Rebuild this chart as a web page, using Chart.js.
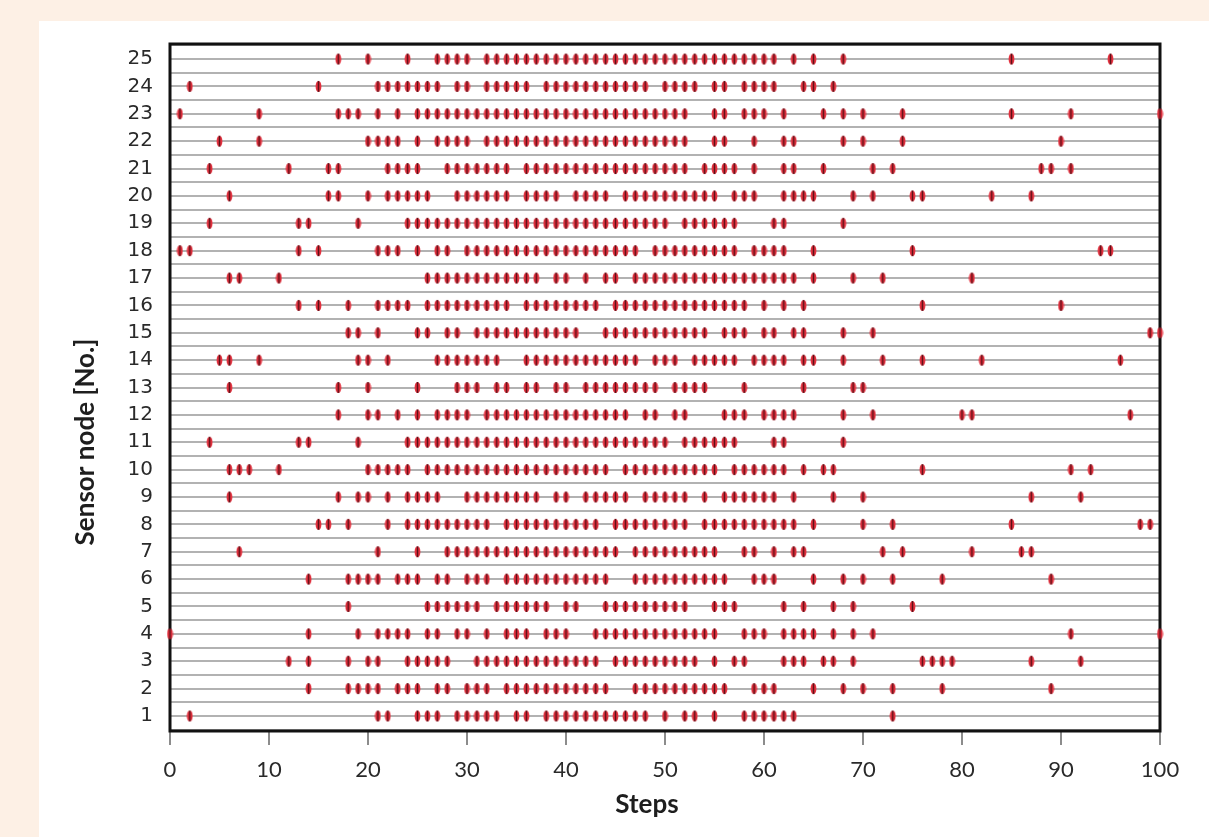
<!DOCTYPE html>
<html>
<head>
<meta charset="utf-8">
<script src="https://cdn.jsdelivr.net/npm/chart.js@4/dist/chart.umd.min.js"></script>
<style>
  html, body { margin: 0; padding: 0; }
  body { background: #fdf0e5; width: 1209px; height: 837px; position: relative; overflow: hidden; }
  #panel { position: absolute; left: 39px; top: 21px; right: 0; bottom: 0; background: #ffffff; }
  #raster { position: absolute; left: 0; top: 0; }
</style>
</head>
<body>
<div id="panel"></div>
<canvas id="raster" width="1209" height="837"></canvas>
<script>
"use strict"

// steps at which each sensor node fired
// -----------------
const node01 = [2,21,22,25,26,27,29,30,31,32,33,35,36,38,39,40,41,42,43,44,45,46,47,48,50,52,53,55,58,59,60,61,62,63,73];
const node02 = [14,18,19,20,21,23,24,25,27,28,30,31,32,34,35,36,37,38,39,40,41,42,43,44,47,48,49,50,51,52,53,54,55,56,59,60,61,65,68,70,73,78,89];
const node03 = [12,14,18,20,21,24,25,26,27,28,31,32,33,34,35,36,37,38,39,40,41,42,43,45,46,47,48,49,50,51,52,53,55,57,58,62,63,64,66,67,69,76,77,78,79,87,92];
const node04 = [0,14,19,21,22,23,24,26,27,29,30,32,34,35,36,38,39,40,43,44,45,46,47,48,49,50,51,52,53,54,55,58,59,60,62,63,64,65,67,69,71,91,100];
const node05 = [18,26,27,28,29,30,31,33,34,35,36,37,38,40,41,44,45,46,47,48,49,50,51,52,55,56,57,62,64,67,69,75];
const node06 = [14,18,19,20,21,23,24,25,27,28,30,31,32,34,35,36,37,38,39,40,41,42,43,44,47,48,49,50,51,52,53,54,55,56,59,60,61,65,68,70,73,78,89];
const node07 = [7,21,25,28,29,30,31,32,33,34,35,36,37,38,39,40,41,42,43,44,45,47,48,49,50,51,52,53,54,55,58,59,61,63,64,72,74,81,86,87];
const node08 = [15,16,18,22,24,25,26,27,28,29,30,31,32,34,35,36,37,38,39,40,41,42,43,45,46,47,48,49,50,51,52,54,55,56,57,58,59,60,61,62,63,65,70,73,85,98,99];
const node09 = [6,17,19,20,22,24,25,26,27,30,31,32,33,34,35,36,37,39,40,42,43,44,45,46,48,49,50,51,52,54,56,57,58,59,60,61,63,67,70,87,92];
const node10 = [6,7,8,11,20,21,22,23,24,26,27,28,29,30,31,32,33,34,35,36,37,38,39,40,41,42,43,44,46,47,48,49,50,51,52,53,54,55,57,58,59,60,61,62,64,66,67,76,91,93];
const node11 = [4,13,14,19,24,25,26,27,28,29,30,31,32,33,34,35,36,37,38,39,40,41,42,43,44,45,46,47,48,49,50,52,53,54,55,56,57,61,62,68];
const node12 = [17,20,21,23,25,27,28,29,30,32,33,34,35,36,37,38,39,40,41,42,43,44,45,46,48,49,51,52,56,57,58,60,61,62,63,68,71,80,81,97];
const node13 = [6,17,20,25,29,30,31,33,34,36,37,39,40,42,43,44,45,46,47,48,49,51,52,53,54,58,64,69,70];
const node14 = [5,6,9,19,20,22,27,28,29,30,31,32,33,36,37,38,39,40,41,42,43,44,45,46,47,49,50,51,53,54,55,56,57,59,60,61,62,64,65,68,72,76,82,96];
const node15 = [18,19,21,25,26,28,29,31,32,33,34,35,36,37,38,39,40,41,44,45,46,47,48,49,50,51,52,53,54,56,57,58,60,61,63,64,68,71,99,100];
const node16 = [13,15,18,21,22,23,24,26,27,28,29,30,31,32,33,34,36,37,38,39,40,41,42,43,45,46,47,48,49,50,51,52,53,54,55,56,57,58,60,62,64,76,90];
const node17 = [6,7,11,26,27,28,29,30,31,32,33,34,35,36,37,39,40,42,44,45,47,48,49,50,51,52,53,54,55,56,57,58,59,60,61,62,63,65,69,72,81];
const node18 = [1,2,13,15,21,22,23,25,27,28,30,31,32,33,34,35,36,37,38,39,40,41,42,43,44,45,46,47,49,50,51,52,53,54,55,56,57,59,60,61,62,65,75,94,95];
const node19 = [4,13,14,19,24,25,26,27,28,29,30,31,32,33,34,35,36,37,38,39,40,41,42,43,44,45,46,47,48,49,50,52,53,54,55,56,57,61,62,68];
const node20 = [6,16,17,20,22,23,24,25,26,29,30,31,32,33,34,36,37,38,39,41,42,43,44,46,47,48,49,50,51,52,53,54,55,57,58,59,62,63,64,65,69,71,75,76,83,87];
const node21 = [4,12,16,17,22,23,24,25,28,29,30,31,32,33,34,36,37,38,39,40,41,42,43,44,45,46,47,48,49,50,51,52,54,55,56,57,59,62,63,66,71,73,88,89,91];
const node22 = [5,9,20,21,22,23,25,27,28,29,30,32,33,34,35,36,37,38,39,40,41,42,43,44,45,46,47,48,49,50,51,52,55,56,59,62,63,68,70,74,90];
const node23 = [1,9,17,18,19,21,23,25,26,27,28,29,30,31,32,33,34,35,36,37,38,39,40,41,42,43,44,45,46,47,48,49,50,51,52,55,56,58,59,60,62,66,68,70,74,85,91,100];
const node24 = [2,15,21,22,23,24,25,26,27,29,30,32,33,34,35,36,38,39,40,41,42,43,44,45,46,47,48,50,51,52,53,55,56,58,59,60,61,64,65,67];
const node25 = [17,20,24,27,28,29,30,32,33,34,35,36,37,38,39,40,41,42,43,44,45,46,47,48,49,50,51,52,53,54,55,56,57,58,59,60,61,63,65,68,85,95];

const nodes = [node01,node02,node03,node04,node05,node06,node07,node08,node09,node10,
               node11,node12,node13,node14,node15,node16,node17,node18,node19,node20,
               node21,node22,node23,node24,node25];
const nodeLabels = ['1','2','3','4','5','6','7','8','9','10','11','12','13',
                    '14','15','16','17','18','19','20','21','22','23','24','25'];
const stepTicks = [0,10,20,30,40,50,60,70,80,90,100];
// -----------------


// red spike marker with a dark stem
function makeMarker() {
    var c = document.createElement('canvas');
    c.width = 7;
    c.height = 13;
    var g = c.getContext('2d');
    g.fillStyle = '#e4303e';
    g.beginPath();
    g.ellipse(3.5, 6.5, 2.9, 5.6, 0, 0, Math.PI * 2);
    g.fill();
    g.strokeStyle = '#5e1018';
    g.lineWidth = 1.5;
    g.beginPath();
    g.moveTo(3.5, 1);
    g.lineTo(3.5, 12);
    g.stroke();
    return c;
}
var marker = makeMarker();

var datasets = nodes.map(function(steps, i) {
    return {
        label: 'Node ' + nodeLabels[i],
        data: steps.map(function(s) { return { x: s, y: i + 1 }; }),
        pointStyle: marker,
        pointRadius: 5,
        showLine: false,
        clip: false
    };
});

// frame round the plot and the two axis titles
var framePlugin = {
    id: 'frame',
    beforeDatasetsDraw: function(chart) {
        var a = chart.chartArea, ctx = chart.ctx;
        ctx.save();
        ctx.strokeStyle = '#111111';
        ctx.lineWidth = 3;
        ctx.strokeRect(a.left, a.top, a.right - a.left, a.bottom - a.top);
        ctx.restore();
    },
    afterDraw: function(chart) {
        var ctx = chart.ctx;
        ctx.save();
        ctx.fillStyle = '#1e1e1e';
        ctx.font = 'bold 26px Lato';
        ctx.textAlign = 'center';
        ctx.textBaseline = 'middle';
        ctx.fillText('Steps', 647, 805);
        ctx.translate(86, 442);
        ctx.rotate(-Math.PI / 2);
        ctx.fillText('Sensor node [No.]', 0, 0);
        ctx.restore();
    }
};

new Chart(document.getElementById('raster'), {
    type: 'scatter',
    data: { datasets: datasets },
    plugins: [framePlugin],
    options: {
        responsive: false,
        animation: false,
        layout: { padding: { top: 44, right: 49, left: 0, bottom: 0 } },
        plugins: {
            legend: { display: false },
            tooltip: { enabled: false }
        },
        scales: {
            x: {
                type: 'linear',
                min: 0,
                max: 100,
                afterFit: function(s) { s.height = 106; },
                afterBuildTicks: function(s) {
                    s.ticks = stepTicks.map(function(v) { return { value: v }; });
                },
                border: { display: false },
                grid: {
                    drawOnChartArea: false,
                    drawTicks: true,
                    tickLength: 14,
                    color: '#8c8c8c',
                    lineWidth: 2
                },
                ticks: {
                    padding: 12,
                    color: '#2a2a2a',
                    font: { family: 'Lato', size: 22 }
                }
            },
            y: {
                type: 'linear',
                min: 0.45,
                max: 25.55,
                afterFit: function(s) { s.width = 170; },
                afterBuildTicks: function(s) {
                    var t = [];
                    for (var v = 0.5; v <= 25.5; v += 0.5) t.push({ value: v });
                    s.ticks = t;
                },
                border: { display: false },
                grid: {
                    drawTicks: false,
                    color: '#b2b2b2',
                    lineWidth: 2
                },
                ticks: {
                    autoSkip: false,
                    padding: 17,
                    color: '#2a2a2a',
                    font: { family: 'DejaVu Sans', size: 20 },
                    callback: function(v) {
                        return Number.isInteger(v) ? nodeLabels[v - 1] : '';
                    }
                }
            }
        }
    }
});
</script>
</body>
</html>
